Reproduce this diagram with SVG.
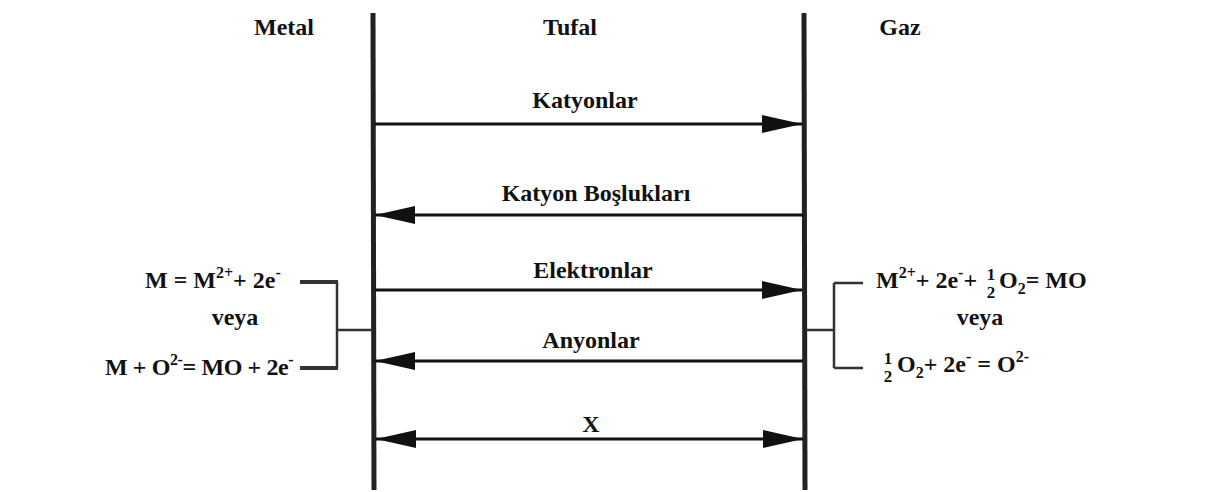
<svg xmlns="http://www.w3.org/2000/svg" width="1208" height="492" viewBox="0 0 1208 492">
<style>
text{font-family:"Liberation Serif","Times New Roman",serif;font-weight:bold;fill:#111;font-size:24px}
.m{text-anchor:middle}
.sm{font-size:16px}
.fr{font-size:17px;text-anchor:middle}
.wall{stroke:#222;stroke-width:5;fill:none}
.arr{stroke:#111;stroke-width:3;fill:none}
.br{stroke:#333;fill:none}
</style>
<defs>
<marker id="ah" markerUnits="userSpaceOnUse" markerWidth="40" markerHeight="18" refX="40" refY="9" orient="auto-start-reverse" viewBox="0 0 40 18">
<path d="M0,0 L40,9 L0,18 z" fill="#111"/>
</marker>
</defs>
<g id="walls">
<line class="wall" x1="373" y1="13" x2="374" y2="490"/>
<line class="wall" x1="804" y1="13" x2="805" y2="490"/>
</g>
<g id="headings">
<text x="284" y="35" class="m">Metal</text>
<text x="570" y="35" class="m">Tufal</text>
<text x="900" y="35" class="m">Gaz</text>
</g>
<g id="connectors">
<line class="arr" x1="375" y1="124" x2="802" y2="124" marker-end="url(#ah)"/>
<line class="arr" x1="803" y1="215" x2="375" y2="215" marker-end="url(#ah)"/>
<line class="arr" x1="375" y1="290" x2="802" y2="290" marker-end="url(#ah)"/>
<line class="arr" x1="803" y1="361" x2="375" y2="361" marker-end="url(#ah)"/>
<line class="arr" x1="376" y1="439" x2="803" y2="439" marker-start="url(#ah)" marker-end="url(#ah)"/>
</g>
<g id="labels">
<text x="585" y="108" class="m">Katyonlar</text>
<text x="596" y="201" class="m">Katyon Boşlukları</text>
<text x="593" y="278" class="m">Elektronlar</text>
<text x="591" y="348" class="m">Anyonlar</text>
<text x="591" y="432" class="m">X</text>
</g>
<g id="metal-bracket">
<path class="br" stroke-width="4" d="M300,282 H338"/>
<path class="br" stroke-width="4" d="M300,368 H338"/>
<path class="br" stroke-width="2.5" d="M337,282 V368 M337,330 H373"/>
</g>
<g id="metal-reactions">
<text x="145" y="288">M = M<tspan dy="-10" class="sm">2+</tspan><tspan dy="10">+ 2e</tspan><tspan dy="-10" class="sm">-</tspan></text>
<text x="235" y="325" class="m">veya</text>
<text x="105" y="375" letter-spacing="-0.4">M + O<tspan dy="-10" class="sm">2-</tspan><tspan dy="10">= MO + 2e</tspan><tspan dy="-10" class="sm">-</tspan></text>
</g>
<g id="gas-bracket">
<path class="br" stroke-width="2.5" d="M834,283 V368 M834,283 H863 M834,368 H863 M806,330 H834"/>
</g>
<g id="gas-reactions">
<text x="876" y="288">M<tspan dy="-10" class="sm">2+</tspan><tspan dy="10">+ 2e</tspan><tspan dy="-10" class="sm">-</tspan><tspan dy="10">+</tspan></text>
<text x="991" y="280" class="fr">1</text>
<text x="991" y="298" class="fr">2</text>
<text x="999" y="288">O<tspan dy="6" class="sm">2</tspan><tspan dy="-6">= MO</tspan></text>
<text x="980" y="325" class="m">veya</text>
<text x="888" y="364" class="fr">1</text>
<text x="888" y="382" class="fr">2</text>
<text x="897" y="372">O<tspan dy="6" class="sm">2</tspan><tspan dy="-6">+ 2e</tspan><tspan dy="-10" class="sm">-</tspan><tspan dy="10"> = O</tspan><tspan dy="-10" class="sm">2-</tspan></text>
</g>
</svg>
